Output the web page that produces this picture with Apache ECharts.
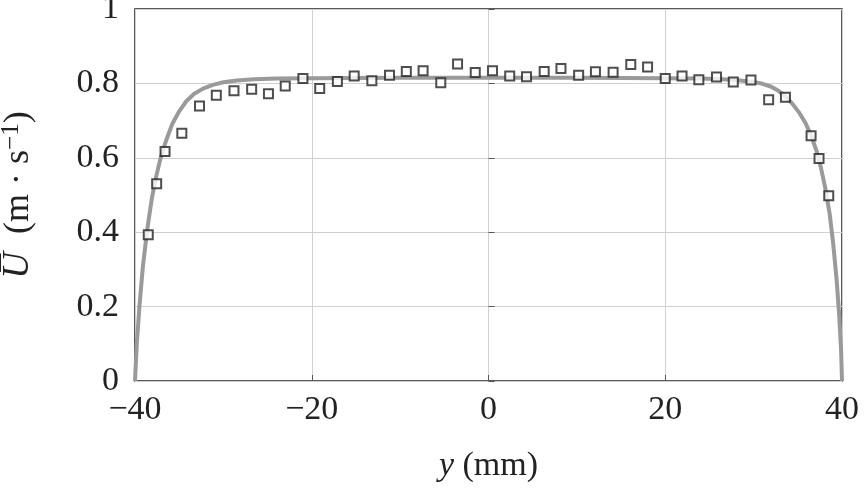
<!DOCTYPE html>
<html><head><meta charset="utf-8">
<script src="https://cdn.jsdelivr.net/npm/echarts@6/dist/echarts.min.js"></script>
<style>html,body{margin:0;padding:0;background:#fff}#c{width:866px;height:492px}</style>
</head><body><div id="c"></div>
<script>
// measured points (y in mm, U in m/s)
var measY = [-38.5,-37.55,-36.6,-34.7,-32.7,-30.8,-28.8,-26.8,-24.9,-23.0,-21.0,-19.1,-17.1,-15.2,-13.2,-11.2,-9.3,-7.4,-5.4,-3.5,-1.5,0.45,2.4,4.3,6.3,8.2,10.2,12.1,14.1,16.1,18.0,20.0,21.9,23.8,25.8,27.7,29.7,31.7,33.6,36.5,37.4,38.5];
var measU = [0.393,0.53,0.617,0.666,0.739,0.768,0.780,0.784,0.772,0.793,0.813,0.786,0.805,0.820,0.807,0.822,0.832,0.834,0.802,0.852,0.829,0.834,0.820,0.818,0.832,0.840,0.822,0.831,0.830,0.851,0.844,0.813,0.820,0.810,0.817,0.804,0.809,0.756,0.763,0.659,0.598,0.498];
// model profile
var lineY = [-40,-39.8,-39.5,-39.1,-38.6,-38.1,-37.6,-37.1,-36.5,-35.8,-35.0,-34.2,-33.3,-32.3,-31.2,-30.0,-28.5,-26.5,-24,-20,-10,0,10,20,24,26.5,28.5,30.0,31.0,32.0,32.8,33.6,34.4,35.2,35.9,36.5,37.1,37.6,38.1,38.6,39.0,39.4,39.7,39.9,40];
var lineU = [0,0.1,0.2,0.31,0.41,0.49,0.55,0.6,0.645,0.69,0.725,0.752,0.772,0.786,0.796,0.803,0.808,0.811,0.813,0.814,0.815,0.815,0.815,0.814,0.813,0.811,0.808,0.804,0.799,0.791,0.78,0.765,0.745,0.72,0.692,0.66,0.62,0.575,0.52,0.45,0.37,0.27,0.17,0.08,0];
var xTicks = [-40,-20,0,20,40];
var yTicks = [0,0.2,0.4,0.6,0.8,1];

var serif = "'Liberation Serif','DejaVu Serif',serif";
function zip(a,b){return a.map(function(v,i){return [v,b[i]];});}
var chart = echarts.init(document.getElementById('c'));
chart.setOption({
  animation:false,
  grid:{left:135,right:24,top:9,bottom:111,show:true,borderColor:'#222',borderWidth:1.5,backgroundColor:'transparent',
        containLabel:false,outerBoundsMode:'none'},
  xAxis:{type:'value',min:-40,max:40,interval:20,
    axisLine:{show:false},
    axisTick:{show:true,inside:true,length:6,lineStyle:{color:'#555'}},
    splitLine:{show:true,lineStyle:{color:'#d0d0d0',width:1}},
    axisLabel:{fontFamily:serif,fontSize:34,color:'#222',margin:12,
      formatter:function(v){return v<0?'\u2212'+Math.abs(v):String(v);}},
    name:'{i|y} (mm)',nameLocation:'middle',nameGap:68,
    nameTextStyle:{fontFamily:serif,fontSize:34,color:'#222',rich:{i:{fontFamily:serif,fontSize:34,fontStyle:'italic',color:'#222'}}}
  },
  yAxis:{type:'value',min:0,max:1,interval:0.2,
    axisLine:{show:false},
    axisTick:{show:true,inside:true,length:6,lineStyle:{color:'#555'}},
    splitLine:{show:true,lineStyle:{color:'#d0d0d0',width:1}},
    axisLabel:{fontFamily:serif,fontSize:34,color:'#222',margin:16,
      formatter:function(v){return v===0?'0':(v===1?'1':v.toFixed(1));}},
    name:'{i|U\u0305}  (m \u00b7 s{sup|\u22121})',nameLocation:'middle',nameGap:97,nameRotate:90,
    nameTextStyle:{fontFamily:serif,fontSize:36,color:'#222',
      rich:{i:{fontFamily:serif,fontSize:37,fontStyle:'italic',color:'#222'},
            sup:{fontFamily:serif,fontSize:25,color:'#222',verticalAlign:'top',padding:[0,0,14,0]}}}
  },
  series:[
    {type:'line',data:zip(lineY,lineU),showSymbol:false,smooth:false,
      lineStyle:{color:'#9a9a9a',width:4,join:'round'},z:2},
    {type:'scatter',data:zip(measY,measU),symbol:'rect',symbolSize:9,
      itemStyle:{color:'#fff',borderColor:'#222',borderWidth:2},z:3}
  ]
});
</script></body></html>
